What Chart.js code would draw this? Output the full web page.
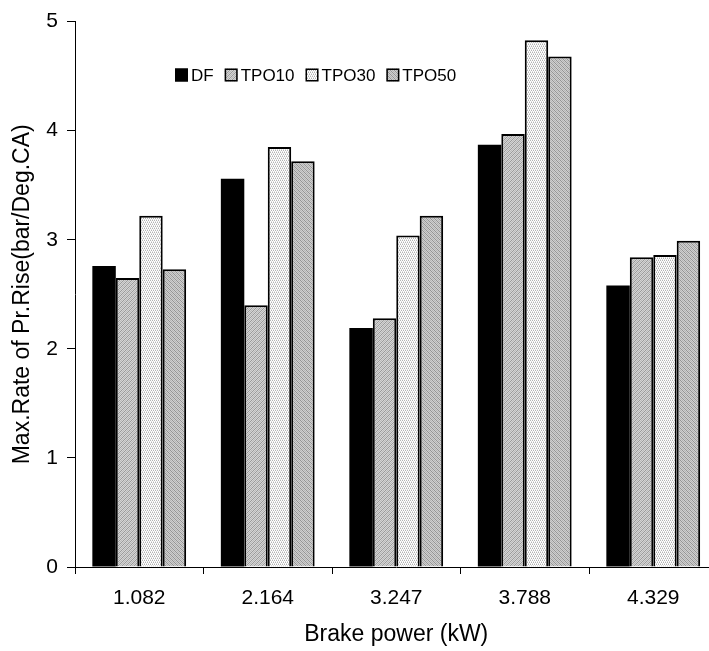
<!DOCTYPE html>
<html>
<head>
<meta charset="utf-8">
<style>
  html, body { margin: 0; padding: 0; background: #fff; overflow: hidden; }
  #wrap { width: 709px; height: 651px; overflow: hidden; }
  canvas { display: block; }
</style>
<script src="https://cdn.jsdelivr.net/npm/chart.js@4/dist/chart.umd.min.js"></script>
</head>
<body>
<div id="wrap"><canvas id="c" width="760" height="651"></canvas></div>
<script>
// Brake power categories (kW)
const categories = ['1.082', '2.164', '3.247', '3.788', '4.329'];

// Maximum rate of pressure rise (bar/deg CA) per fuel
const dfValues    = [2.76, 3.56, 2.19, 3.87, 2.58];
const tpo10Values = [2.65, 2.40, 2.28, 3.97, 2.84];
const tpo30Values = [3.22, 3.85, 3.04, 4.83, 2.86];
const tpo50Values = [2.73, 3.72, 3.22, 4.68, 2.99];

const seriesNames = ['DF', 'TPO10', 'TPO30', 'TPO50'];
const yTicks = [0, 1, 2, 3, 4, 5];

const FONT = '"Liberation Sans", Arial, Helvetica, sans-serif';

// Small repeating fill patterns for the hatched bars
function makePattern(size, painter) {
  const c = document.createElement('canvas');
  c.width = size; c.height = size;
  const g = c.getContext('2d');
  painter(g, size);
  return document.getElementById('c').getContext('2d').createPattern(c, 'repeat');
}
const patDiagA = makePattern(4, (g, s) => {
  g.fillStyle = '#d4d4d4'; g.fillRect(0, 0, s, s);
  g.fillStyle = '#9a9a9a';
  for (let i = 0; i < s; i++) g.fillRect(i, (s - 1 - i), 1, 1);
  g.fillStyle = '#b8b8b8';
  for (let i = 0; i < s; i++) g.fillRect(i, (s + 1 - i) % s, 1, 1);
});
const patDots = makePattern(4, (g, s) => {
  g.fillStyle = '#ffffff'; g.fillRect(0, 0, s, s);
  g.fillStyle = '#b4b4b4';
  g.fillRect(0, 0, 1, 1); g.fillRect(2, 0, 1, 1);
  g.fillRect(1, 2, 1, 1); g.fillRect(3, 2, 1, 1);
  g.fillStyle = '#dcdcdc';
  g.fillRect(1, 1, 1, 1); g.fillRect(3, 1, 1, 1);
  g.fillRect(0, 3, 1, 1); g.fillRect(2, 3, 1, 1);
});
const patDiagB = makePattern(4, (g, s) => {
  g.fillStyle = '#cfcfcf'; g.fillRect(0, 0, s, s);
  g.fillStyle = '#949494';
  for (let i = 0; i < s; i++) g.fillRect(i, i, 1, 1);
  g.fillStyle = '#b4b4b4';
  for (let i = 0; i < s; i++) g.fillRect(i, (i + 2) % s, 1, 1);
});

const fills = ['#000000', patDiagA, patDots, patDiagB];
const values = [dfValues, tpo10Values, tpo30Values, tpo50Values];

const datasets = seriesNames.map((name, i) => ({
  label: name,
  data: values[i],
  backgroundColor: fills[i],
  borderColor: '#000000',
  borderWidth: i === 0 ? 0 : 2,
  borderSkipped: 'bottom',
  categoryPercentage: 0.73,
  barPercentage: 1.0
}));

// Legend row drawn inside the plot area
const inlineLegend = {
  id: 'inlineLegend',
  afterDatasetsDraw(chart) {
    const ctx = chart.ctx;
    ctx.save();
    ctx.font = '17px ' + FONT;
    ctx.textBaseline = 'middle';
    ctx.textAlign = 'left';
    let x = 175;
    const y = 75;
    const box = 13;
    chart.data.datasets.forEach((ds) => {
      ctx.fillStyle = ds.backgroundColor;
      ctx.fillRect(x, y - box / 2, box, box);
      ctx.strokeStyle = '#000';
      ctx.lineWidth = 1.5;
      ctx.strokeRect(x + 0.75, y - box / 2 + 0.75, box - 1.5, box - 1.5);
      ctx.fillStyle = '#000';
      ctx.fillText(ds.label, x + box + 3, y + 1);
      x += box + 3 + ctx.measureText(ds.label).width + 11;
    });
    ctx.restore();
  }
};

new Chart(document.getElementById('c'), {
  type: 'bar',
  data: { labels: categories, datasets },
  options: {
    responsive: false,
    devicePixelRatio: 1,
    animation: false,
    layout: { padding: { left: 0, right: 42.5, top: 14, bottom: 0 } },
    plugins: { legend: { display: false }, tooltip: { enabled: false } },
    scales: {
      x: {
        type: 'category',
        offset: true,
        grid: {
          offset: true,
          drawOnChartArea: false,
          drawTicks: true,
          tickLength: 7,
          tickColor: '#000',
          tickWidth: 1
        },
        border: { display: true, color: '#000', width: 1 },
        ticks: { color: '#000', font: { family: FONT, size: 21 }, padding: 12, maxRotation: 0 },
        title: {
          display: true,
          text: 'Brake power (kW)',
          color: '#000',
          font: { family: FONT, size: 23 },
          padding: { top: 6, bottom: 3 }
        },
        afterFit(scale) { scale.height = 84; }
      },
      y: {
        min: 0,
        max: 5,
        afterBuildTicks(scale) { scale.ticks = yTicks.map(v => ({ value: v })); },
        grid: {
          drawOnChartArea: false,
          drawTicks: true,
          tickLength: 8,
          tickColor: '#000',
          tickWidth: 1
        },
        border: { display: true, color: '#000', width: 1 },
        ticks: { color: '#000', font: { family: FONT, size: 21 }, padding: 9 },
        title: {
          display: true,
          text: 'Max.Rate of Pr.Rise(bar/Deg.CA)',
          color: '#000',
          font: { family: FONT, size: 23 },
          padding: { top: 9, bottom: 4 }
        },
        afterFit(scale) { scale.width = 75; }
      }
    }
  },
  plugins: [inlineLegend]
});
</script>
</body>
</html>
